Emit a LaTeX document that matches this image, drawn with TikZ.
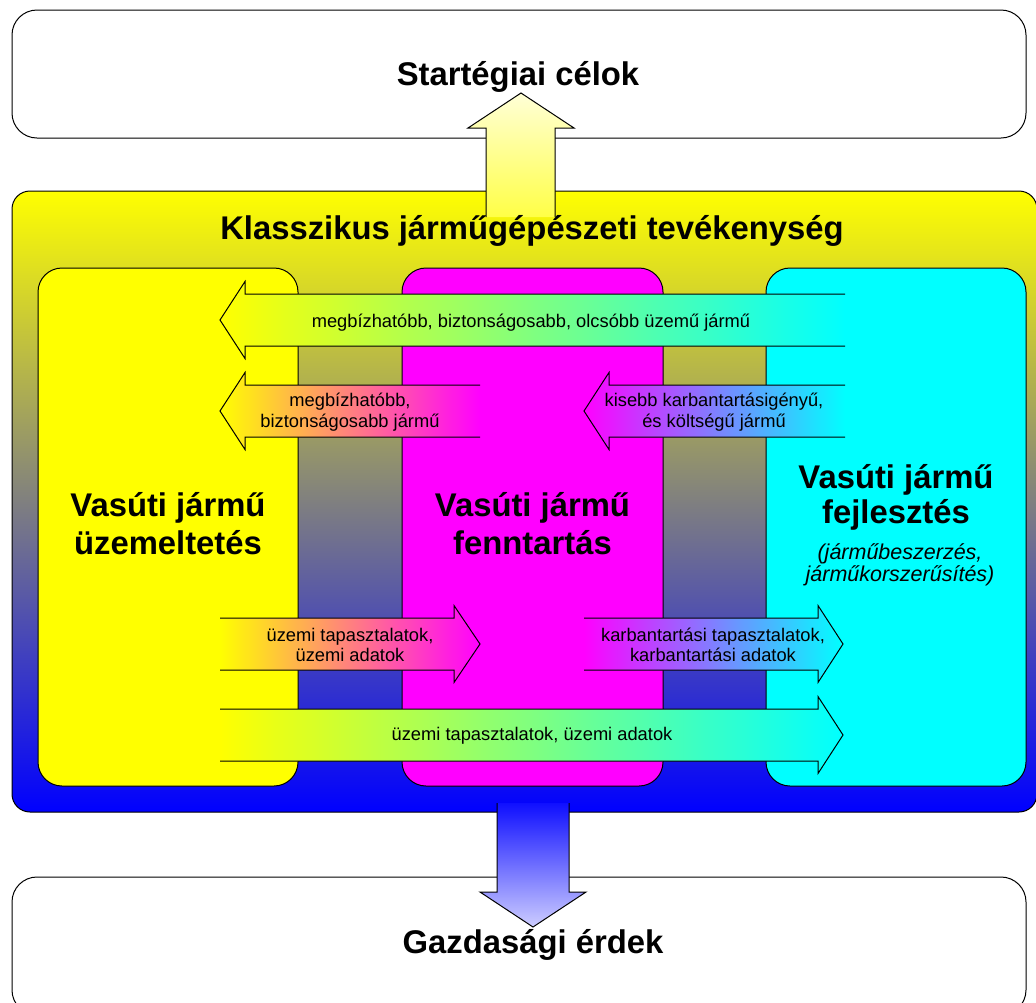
\documentclass[tikz,border=0pt]{standalone}
\usepackage{fontspec}
\setmainfont{Liberation Sans}
\usetikzlibrary{calc}

\begin{document}
\begin{tikzpicture}[x=1pt, y=-1pt, line width=1pt,
	panel/.style={draw, rounded corners=25},
	column/.style={draw, rounded corners=24},
	flow/.style={draw, line join=miter},
	bigtext/.style={font=\fontsize{32.8}{37.7}\selectfont\bfseries, align=center, inner sep=0},
	notetext/.style={font=\fontsize{21.5}{22.5}\selectfont\itshape, align=center, inner sep=0},
	flowtext/.style={font=\fontsize{18.3}{20.5}\selectfont, align=center, inner sep=0}]
	\definecolor{pureyellow}{RGB}{255,255,0}
	\definecolor{puremagenta}{RGB}{255,0,255}
	\definecolor{purecyan}{RGB}{0,255,255}
	\definecolor{pureblue}{RGB}{0,0,255}
	\definecolor{paleyellow}{RGB}{255,255,215}
	\definecolor{deepyellow}{RGB}{255,255,70}
	\definecolor{paleblue}{RGB}{205,205,255}
	\definecolor{deepblue}{RGB}{15,15,255}
	\useasboundingbox (0,0) rectangle (1036,1002);
	% outer boxes
	\draw[panel, fill=white] (12,10) rectangle (1026,138);
	\draw[panel, fill=white] (12,877) rectangle (1026,1015);
	\shade[draw, rounded corners=18, top color=pureyellow, bottom color=pureblue] (12,191) rectangle (1037,812);
	% up arrow
	\shade[flow, top color=paleyellow, bottom color=deepyellow] (486,217) -- (486,128) -- (468,128) -- (521,93) -- (574,128) -- (555,128) -- (555,217);
	% columns
	\draw[column, fill=pureyellow] (38,268) rectangle (298,786);
	\draw[column, fill=puremagenta] (402,268) rectangle (663,786);
	\draw[column, fill=purecyan] (766,268) rectangle (1026,786);
	% flows to the left
	\shade[flow, left color=pureyellow, right color=purecyan] (845,294) -- (245,294) -- (245,281.5) -- (220,320) -- (245,358.5) -- (245,346) -- (845,346);
	\shade[flow, left color=pureyellow, right color=puremagenta] (480,385) -- (245,385) -- (245,372.5) -- (220,411) -- (245,449.5) -- (245,437) -- (480,437);
	\shade[flow, left color=puremagenta, right color=purecyan] (845,385) -- (609,385) -- (609,372.5) -- (584,411) -- (609,449.5) -- (609,437) -- (845,437);
	% flows to the right
	\shade[flow, left color=pureyellow, right color=puremagenta] (220,618) -- (454,618) -- (454,605.5) -- (480,644) -- (454,682.5) -- (454,670) -- (220,670);
	\shade[flow, left color=puremagenta, right color=purecyan] (584,618) -- (818,618) -- (818,605.5) -- (843,644) -- (818,682.5) -- (818,670) -- (584,670);
	\shade[flow, left color=pureyellow, right color=purecyan] (220,709) -- (818,709) -- (818,696.5) -- (843,735) -- (818,773.5) -- (818,761) -- (220,761);
	% down arrow
	\shade[flow, top color=deepblue, bottom color=paleblue] (497,803) -- (497,892) -- (480,892) -- (533,927) -- (586,892) -- (569,892) -- (569,803);
	% texts
	\node[bigtext, anchor=base] (goals) at (518,85) {Startégiai célok};
	\node[bigtext, anchor=base] (classic) at (532,239) {Klasszikus járműgépészeti tevékenység};
	\node[bigtext, anchor=base] (interest) at (533,953) {Gazdasági érdek};
	\node[bigtext] (operation) at (168,523.5) {Vasúti jármű\\üzemeltetés};
	\node[bigtext] (maintenance) at (532.5,523.5) {Vasúti jármű\\fenntartás};
	\node[bigtext, font=\fontsize{32.8}{35}\selectfont\bfseries] (development) at (896,497) {Vasúti jármű\\fejlesztés};
	\node[notetext] (procurement) at (900,565) {(járműbeszerzés,\\járműkorszerűsítés)};
	\node[flowtext, anchor=base] (better) at (531,327) {megbízhatóbb, biztonságosabb, olcsóbb üzemű jármű};
	\node[flowtext] (safer) at (350,412) {megbízhatóbb,\\biztonságosabb jármű};
	\node[flowtext] (cheaper) at (714,412) {kisebb karbantartásigényű,\\és költségű jármű};
	\node[flowtext] (opdata) at (350,645) {üzemi tapasztalatok,\\üzemi adatok};
	\node[flowtext] (maintdata) at (713,645) {karbantartási tapasztalatok,\\karbantartási adatok};
	\node[flowtext, anchor=base] (alldata) at (532,740) {üzemi tapasztalatok, üzemi adatok};
\end{tikzpicture}
\end{document}
